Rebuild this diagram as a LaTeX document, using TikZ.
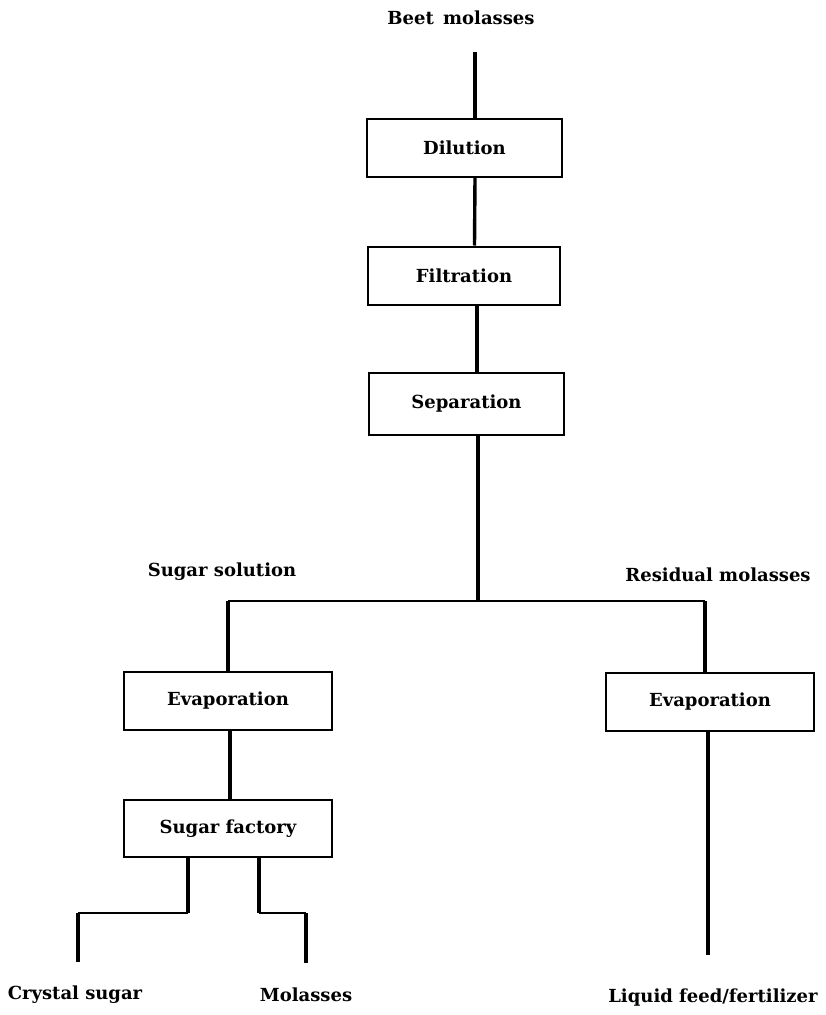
\documentclass[tikz,border=0pt]{standalone}
\usepackage{fontspec}
\setmainfont{DejaVu Serif}
\begin{document}
\begin{tikzpicture}[x=1pt,y=-1pt,
  txt/.style={font=\fontsize{18}{20}\selectfont\bfseries, inner sep=0pt},
  stepbox/.style={draw, line width=2pt, txt, minimum height=58pt, minimum width=206pt},
  pipe/.style={line width=3.4pt},
  hpipe/.style={line width=1.6pt}]
\useasboundingbox (0,0) rectangle (825,1015);
% labels
\node[txt] (beet) at (461,18) {Beet\, molasses};
\node[txt] (sol) at (222,572) {Sugar solution};
\node[txt] (res) at (718,575) {Residual molasses};
\node[txt] (crys) at (75,995) {Crystal sugar};
\node[txt] (mol) at (306,995) {Molasses};
\node[txt] (feed) at (713,998) {Liquid feed/fertilizer};
% boxes
\node[stepbox, minimum width=195pt] (dil) at (464.5,148) {Dilution};
\node[stepbox, minimum width=192pt] (fil) at (464,275.5) {Filtration};
\node[stepbox, minimum width=195pt, minimum height=62pt] (sep) at (466.5,404) {Separation};
\node[stepbox, minimum width=208pt] (evl) at (228,701) {Evaporation};
\node[stepbox, minimum width=208pt, minimum height=57pt] (fac) at (228,828.5) {Sugar factory};
\node[stepbox, minimum width=208pt] (evr) at (710,702) {Evaporation};
% coordinates
\coordinate (b0) at (475,52);
\coordinate (j) at (478,601);
\coordinate (jl) at (228,601);
\coordinate (jr) at (705,601);
\coordinate (fl) at (78,913);
\coordinate (fr) at (306,913);
\coordinate (el) at (78,962);
\coordinate (er) at (306,963);
\coordinate (ee) at (708,955);
% connectors
\draw[pipe] (b0) -- (dil.north -| b0);
\draw[pipe] ([xshift=10.5pt]dil.south) -- ([xshift=10.5pt]fil.north);
\draw[pipe] ([xshift=13pt]fil.south) -- ([xshift=13pt]fil.south |- sep.north);
\draw[pipe] (sep.south -| j) -- (j);
\draw[hpipe] (jl) -- (jr);
\draw[pipe] (jl) -- (evl.north -| jl);
\draw[pipe] (jr) -- (evr.north -| jr);
\draw[pipe] ([xshift=2pt]evl.south) -- ([xshift=2pt]fac.north);
\draw[pipe] (evr.south -| ee) -- (ee);
\draw[pipe] (fac.south -| 188,0) -- (188,913);
\draw[hpipe] (188,913) -- (fl);
\draw[pipe] (fl) -- (el);
\draw[pipe] (fac.south -| 259,0) -- (259,913);
\draw[hpipe] (259,913) -- (fr);
\draw[pipe] (fr) -- (er);
\end{tikzpicture}
\end{document}
